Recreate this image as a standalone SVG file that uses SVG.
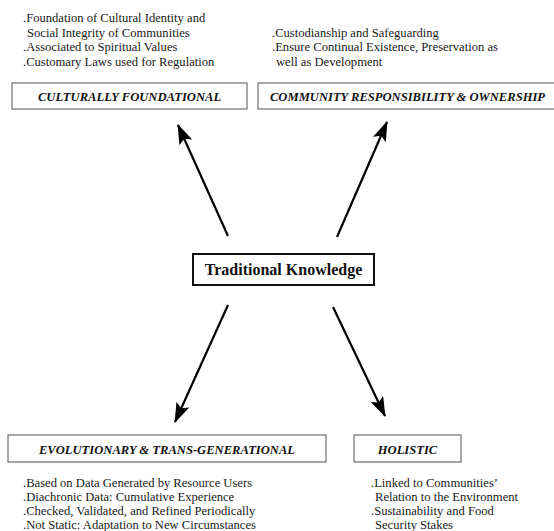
<svg xmlns="http://www.w3.org/2000/svg" width="554" height="531" viewBox="0 0 554 531">
<style>
.t{font-family:"Liberation Serif","Times New Roman",serif;font-size:12.6px;fill:#1a1a1a}
.lab{font-family:"Liberation Serif","Times New Roman",serif;font-size:12.6px;font-weight:bold;font-style:italic;fill:#111}
.box{fill:#fff;stroke:#6e6e6e;stroke-width:1.2}
.main{fill:#fff;stroke:#111;stroke-width:2}
.arr{stroke:#000;stroke-width:2.2;fill:none;marker-end:url(#ah)}
</style>
<defs>
<marker id="ah" markerUnits="userSpaceOnUse" markerWidth="20" markerHeight="14" refX="19" refY="7" orient="auto">
<path d="M0,0 L20,7 L0,14 L4,7 Z" fill="#000"/>
</marker>
</defs>
<rect width="554" height="531" fill="#fff"/>
<g id="culturally-foundational">
<text class="t" x="23" y="22">.Foundation of Cultural Identity and</text>
<text class="t" x="27" y="36.5">Social Integrity of Communities</text>
<text class="t" x="23" y="51">.Associated to Spiritual Values</text>
<text class="t" x="23" y="65.5">.Customary Laws used for Regulation</text>
<rect class="box" x="12" y="83" width="235" height="26"/>
<text class="lab" x="129.5" y="101" text-anchor="middle">CULTURALLY FOUNDATIONAL</text>
</g>
<g id="community-responsibility">
<text class="t" x="272" y="36.5">.Custodianship and Safeguarding</text>
<text class="t" x="272" y="51">.Ensure Continual Existence, Preservation as</text>
<text class="t" x="276" y="65.5">well as Development</text>
<rect class="box" x="258" y="83" width="300" height="26"/>
<text class="lab" x="407.5" y="101" text-anchor="middle">COMMUNITY RESPONSIBILITY &amp; OWNERSHIP</text>
</g>
<g id="traditional-knowledge">
<rect class="main" x="193" y="254" width="181" height="31"/>
<text x="283.5" y="275" text-anchor="middle" style="font-family:'Liberation Serif','Times New Roman',serif;font-size:16px;font-weight:bold;fill:#111">Traditional Knowledge</text>
</g>
<g id="evolutionary">
<rect class="box" x="8" y="435" width="318" height="27"/>
<text class="lab" x="167" y="454" text-anchor="middle">EVOLUTIONARY &amp; TRANS-GENERATIONAL</text>
<text class="t" x="23" y="486.5">.Based on Data Generated by Resource Users</text>
<text class="t" x="23" y="500.5">.Diachronic Data: Cumulative Experience</text>
<text class="t" x="23" y="514.5">.Checked, Validated, and Refined Periodically</text>
<text class="t" x="23" y="528.5">.Not Static: Adaptation to New Circumstances</text>
</g>
<g id="holistic">
<rect class="box" x="354" y="435" width="107" height="27"/>
<text class="lab" x="407.5" y="454" text-anchor="middle">HOLISTIC</text>
<text class="t" x="371" y="486.5">.Linked to Communities’</text>
<text class="t" x="375" y="500.5">Relation to the Environment</text>
<text class="t" x="371" y="514.5">.Sustainability and Food</text>
<text class="t" x="375" y="528.5">Security Stakes</text>
</g>
<g id="connectors">
<line class="arr" x1="228" y1="236" x2="178" y2="125"/>
<line class="arr" x1="337" y1="237" x2="387" y2="122"/>
<line class="arr" x1="228" y1="305" x2="175" y2="422"/>
<line class="arr" x1="333" y1="307" x2="385" y2="416"/>
</g>
</svg>
